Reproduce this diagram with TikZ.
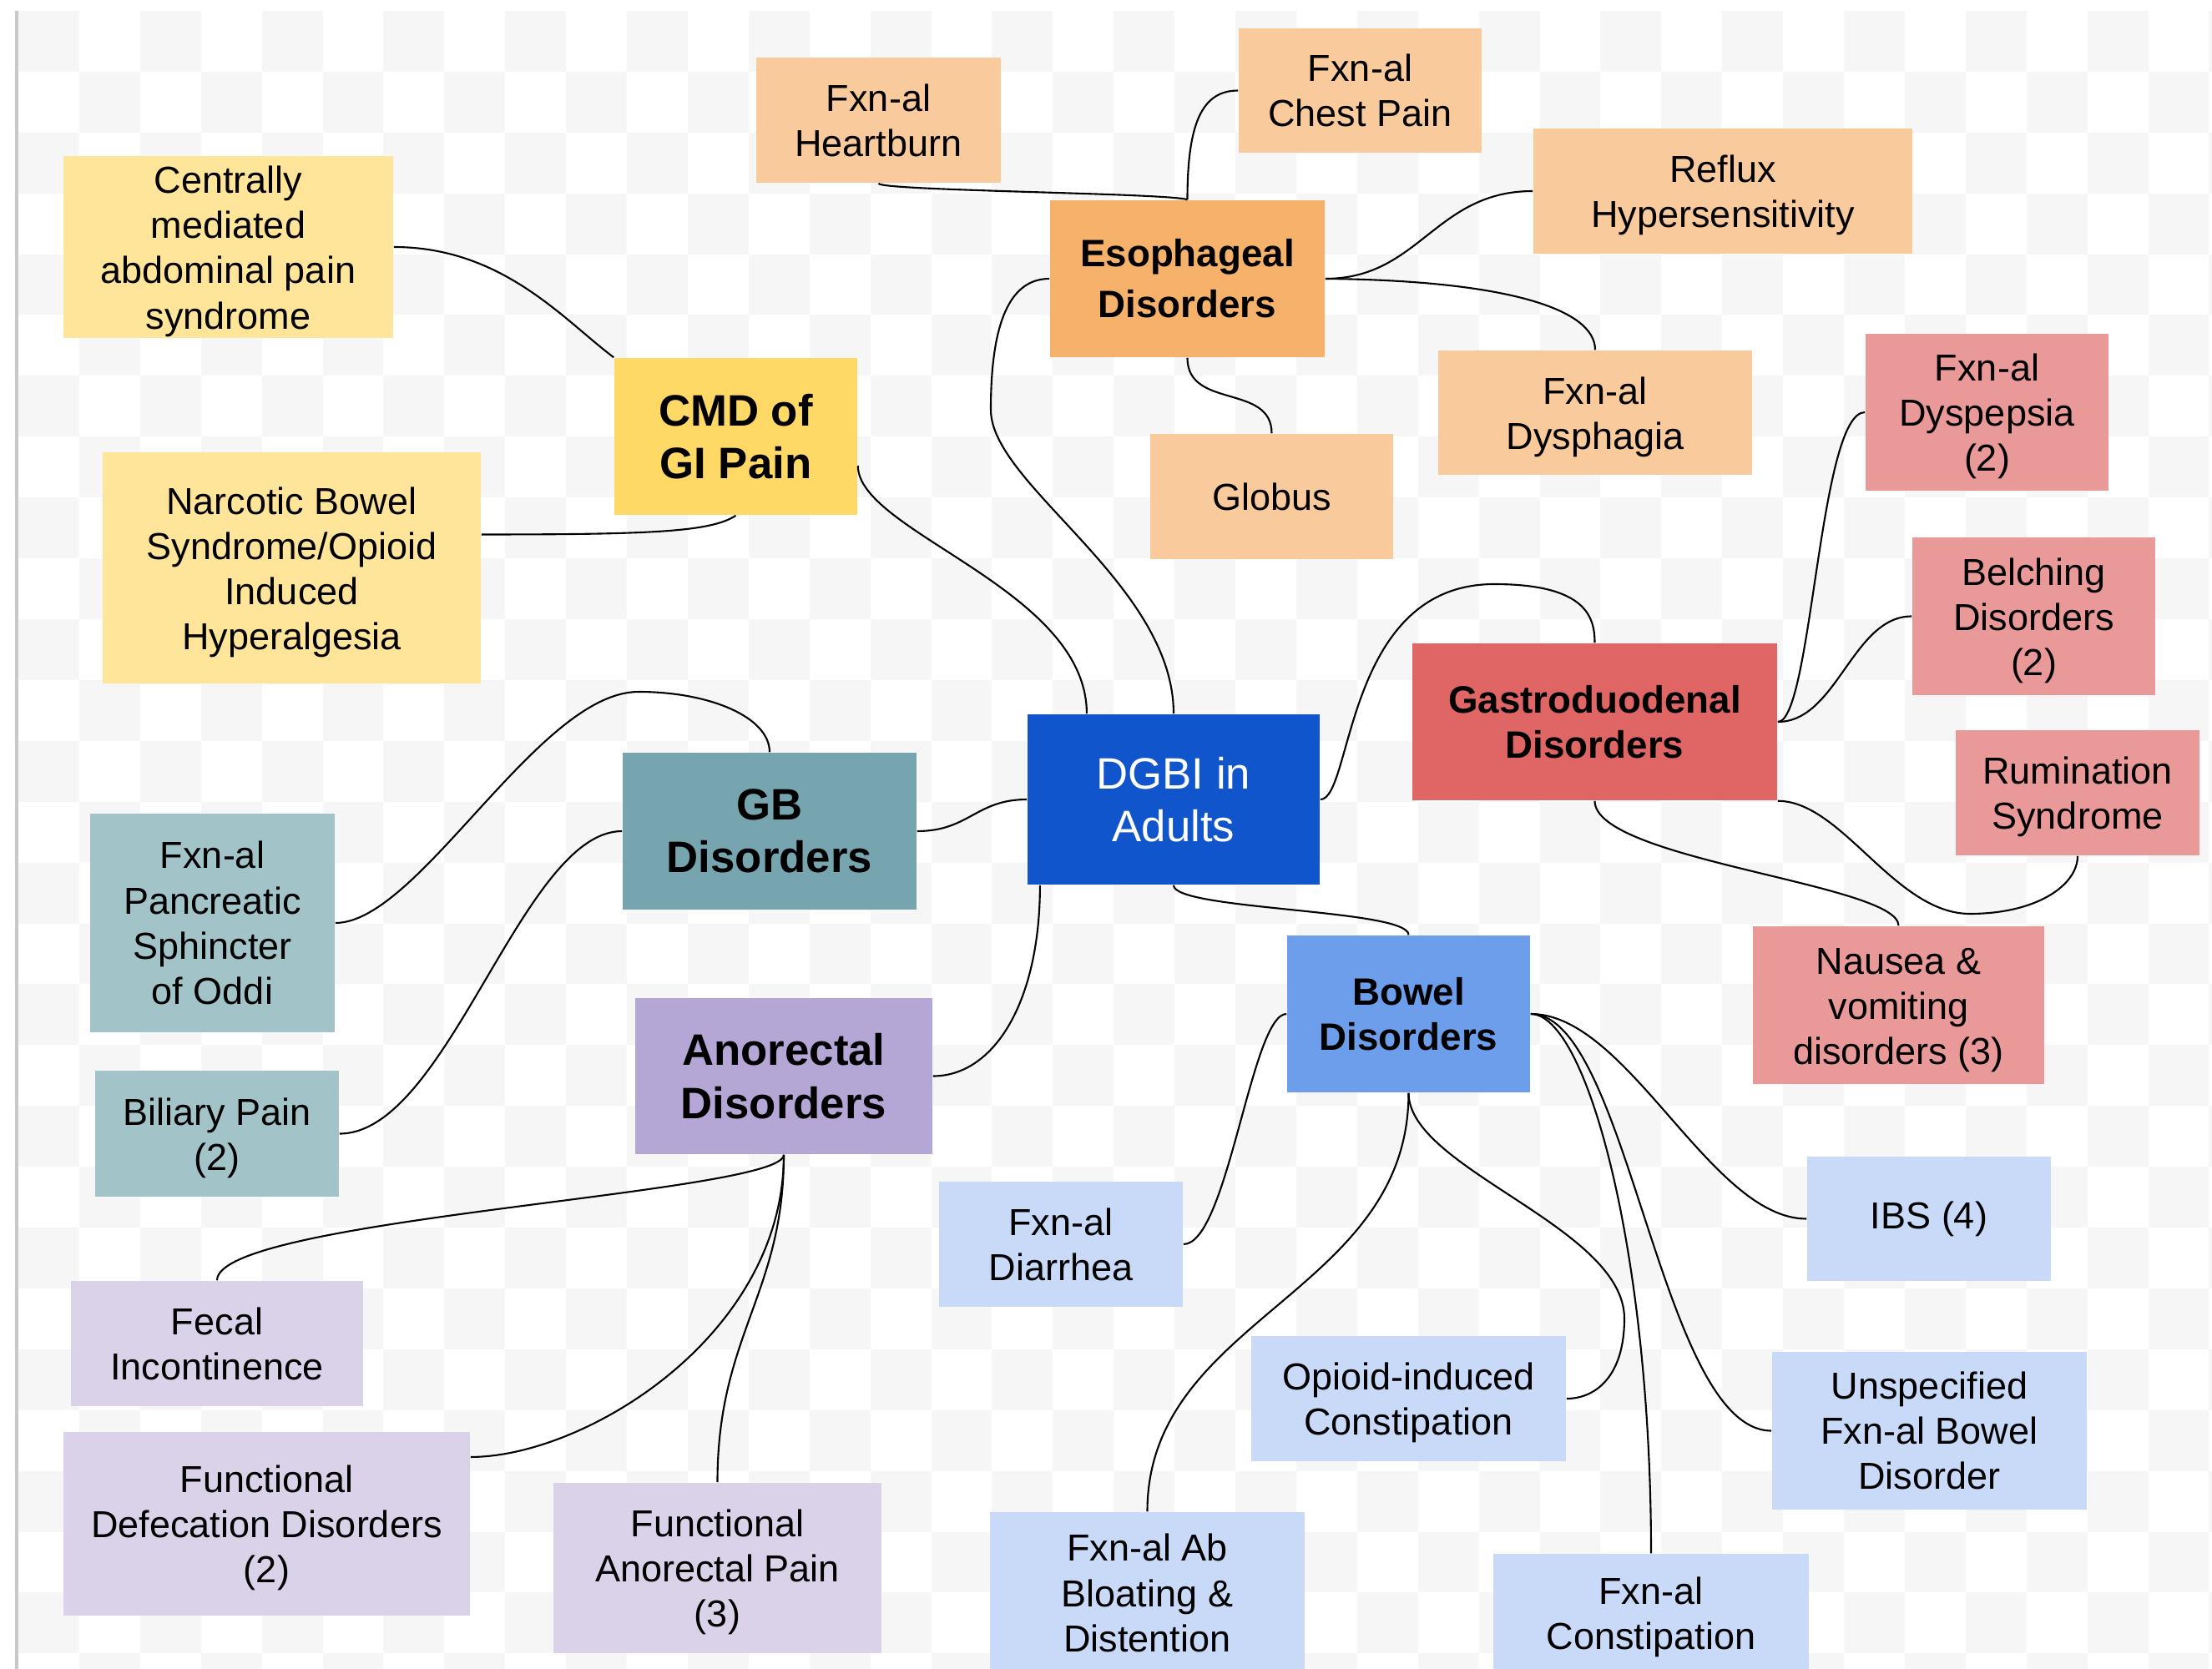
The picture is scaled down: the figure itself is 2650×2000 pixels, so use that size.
\documentclass[tikz,border=0pt]{standalone}
\usepackage{fontspec}
\setmainfont{Liberation Sans}
\usepackage{tikz}
\usetikzlibrary{positioning}

\definecolor{esomain}{HTML}{F6B26B}
\definecolor{esoleaf}{HTML}{F9CB9C}
\definecolor{cmdmain}{HTML}{FFD966}
\definecolor{cmdleaf}{HTML}{FFE599}
\definecolor{gastromain}{HTML}{E06666}
\definecolor{gastroleaf}{HTML}{EA9999}
\definecolor{bowelmain}{HTML}{6D9EEB}
\definecolor{bowelleaf}{HTML}{C9DAF8}
\definecolor{dgbiblue}{HTML}{1155CC}
\definecolor{gbmain}{HTML}{76A5AF}
\definecolor{gbleaf}{HTML}{A2C4C9}
\definecolor{anomain}{HTML}{B4A7D6}
\definecolor{anoleaf}{HTML}{D9D2E9}
\definecolor{checkgrey}{HTML}{F6F6F6}
\definecolor{edgegrey}{HTML}{C8C8C8}

% taller first line, evens out a descender on the last line
\newcommand{\leafstrut}{\rule{0pt}{12.2pt}}

\tikzset{
    leafbox/.style={rectangle, inner sep=0pt, align=center, minimum width=2.92cm, minimum height=1.50cm, font=\fontsize{12.8}{15.4}\selectfont},
    subbox/.style={rectangle, inner sep=0pt, align=center, minimum width=2.91cm, minimum height=1.88cm, font=\fontsize{13}{15.4}\selectfont\bfseries},
    mainbox/.style={rectangle, inner sep=0pt, align=center, minimum width=3.52cm, minimum height=1.88cm, font=\fontsize{15}{18}\selectfont\bfseries},
    link/.style={line width=0.6pt, black}
}

\begin{document}
\begin{tikzpicture}[x=0.01cm, y=-0.01cm]
    \useasboundingbox (0,0) rectangle (2650,2000);

    % Background: checker pattern and left rule
    \foreach \i in {0,...,36}
    {
        \foreach \j in {0,...,27}
        {
            \pgfmathtruncatemacro\cellodd{mod(\i+\j,2)}
            \ifnum\cellodd=0
                \fill[checkgrey] (22+72.9*\i,13+72.9*\j) rectangle ++(72.9,72.9);
            \fi
        }
    }
    \draw[edgegrey, line width=0.04cm] (20,13) -- (20,2000);

    % Centre
    \node[mainbox, fill=dgbiblue, text=white, font=\fontsize{15}{18}\selectfont, minimum width=3.50cm, minimum height=2.04cm] (dgbi) at (1406,958) {DGBI in\\Adults};

    % Esophageal group
    \node[subbox, fill=esomain, minimum width=3.29cm, font=\fontsize{13}{17.3}\selectfont\bfseries] (esoph) at (1422.5,334) {Esophageal\\Disorders};
    \node[leafbox, fill=esoleaf, minimum width=2.93cm] (heartburn) at (1052.5,144) {Fxn-al\\Heartburn};
    \node[leafbox, fill=esoleaf, minimum width=2.91cm, minimum height=1.49cm] (chest) at (1629.5,108.5) {Fxn-al\\Chest Pain};
    \node[leafbox, fill=esoleaf, minimum width=4.54cm] (reflux) at (2064,229) {\leafstrut Reflux\\Hypersensitivity};
    \node[leafbox, fill=esoleaf, minimum width=3.76cm, minimum height=1.49cm] (dysphagia) at (1911,494.5) {\leafstrut Fxn-al\\Dysphagia};
    \node[leafbox, fill=esoleaf, minimum width=2.91cm] (globus) at (1523.5,595) {Globus};

    % CMD group
    \node[mainbox, fill=cmdmain, minimum width=2.91cm] (cmd) at (881.5,523) {CMD of\\GI Pain};
    \node[leafbox, fill=cmdleaf, minimum width=3.95cm, minimum height=2.18cm] (centrally) at (273.5,296) {\leafstrut Centrally\\mediated\\abdominal pain\\syndrome};
    \node[leafbox, fill=cmdleaf, minimum width=4.53cm, minimum height=2.77cm] (narcotic) at (349.5,680.5) {\leafstrut Narcotic Bowel\\Syndrome/Opioid\\Induced\\Hyperalgesia};

    % Gastroduodenal group
    \node[subbox, fill=gastromain, minimum width=4.37cm] (gastro) at (1910.5,865) {Gastroduodenal\\Disorders};
    \node[leafbox, fill=gastroleaf, minimum width=2.91cm, minimum height=1.88cm] (dyspepsia) at (2380.5,494) {\leafstrut Fxn-al\\Dyspepsia\\(2)};
    \node[leafbox, fill=gastroleaf, minimum width=2.91cm, minimum height=1.89cm] (belching) at (2436.5,738.5) {\leafstrut Belching\\Disorders\\(2)};
    \node[leafbox, fill=gastroleaf] (rumination) at (2489,950) {\leafstrut Rumination\\Syndrome};
    \node[leafbox, fill=gastroleaf, minimum width=3.49cm, minimum height=1.89cm] (nausea) at (2274.5,1204.5) {\leafstrut Nausea \&\\vomiting\\disorders (3)};

    % GB group
    \node[mainbox, fill=gbmain] (gb) at (922,996) {GB\\Disorders};
    \node[leafbox, fill=gbleaf, minimum width=2.93cm, minimum height=2.62cm] (pancreatic) at (254.5,1106) {Fxn-al\\Pancreatic\\Sphincter\\of Oddi};
    \node[leafbox, fill=gbleaf, minimum height=1.51cm] (biliary) at (260,1358.5) {\leafstrut Biliary Pain\\(2)};

    % Anorectal group
    \node[mainbox, fill=anomain, minimum width=3.56cm, minimum height=1.87cm] (anorectal) at (939,1289.5) {Anorectal\\Disorders};
    \node[leafbox, fill=anoleaf, minimum width=3.50cm] (fecal) at (260,1610) {Fecal\\Incontinence};
    \node[leafbox, fill=anoleaf, minimum width=4.87cm, minimum height=2.20cm] (defecation) at (319.5,1826) {\leafstrut Functional\\Defecation Disorders\\(2)};
    \node[leafbox, fill=anoleaf, minimum width=3.93cm, minimum height=2.04cm] (anopain) at (859.5,1879) {\leafstrut Functional\\Anorectal Pain\\(3)};

    % Bowel group
    \node[subbox, fill=bowelmain] (bowel) at (1687.5,1215) {Bowel\\Disorders};
    \node[leafbox, fill=bowelleaf] (diarrhea) at (1271,1491) {Fxn-al\\Diarrhea};
    \node[leafbox, fill=bowelleaf, minimum width=3.77cm] (opioid) at (1687.5,1676) {\leafstrut Opioid-induced\\Constipation};
    \node[leafbox, fill=bowelleaf, minimum width=3.77cm, minimum height=1.94cm] (bloating) at (1374.5,1909) {Fxn-al Ab\\Bloating \&\\Distention};
    \node[leafbox, fill=bowelleaf, minimum width=3.78cm, minimum height=1.51cm] (constip) at (1978,1937.5) {Fxn-al\\Constipation};
    \node[leafbox, fill=bowelleaf, minimum height=1.49cm] (ibs) at (2311,1460.5) {IBS (4)};
    \node[leafbox, fill=bowelleaf, minimum width=3.77cm, minimum height=1.89cm] (unspec) at (2311.5,1714.5) {Unspecified\\Fxn-al Bowel\\Disorder};

    % Links from the centre
    \draw[link] ([yshift=-0.35cm]cmd.east) .. controls +(0,80) and +(0,-150) .. ([xshift=-1.04cm]dgbi.north);
    \draw[link] (esoph.west) .. controls +(-53,0) and +(0,-91) .. (1187,491) .. controls +(0,90) and +(0,-156) .. (dgbi.north);
    \draw[link] (dgbi.east) .. controls +(39,0) and +(-180,0) .. (1790,700) .. controls +(110,0) and +(0,-31) .. (gastro.north);
    \draw[link] (dgbi.south) .. controls +(0,30) and +(0,-31) .. (bowel.north);
    \draw[link] (gb.east) .. controls +(62,0) and +(-61,0) .. (dgbi.west);
    \draw[link] ([xshift=-1.6cm]dgbi.south) .. controls +(0,140) and +(73,0) .. (anorectal.east);

    % Esophageal links
    \draw[link] (heartburn.south) .. controls +(0,9) and +(-22,-8) .. (esoph.north);
    \draw[link] (esoph.north) .. controls +(0,-90) and +(-44,0) .. (chest.west);
    \draw[link] (esoph.east) .. controls +(113,0) and +(-117,0) .. (reflux.west);
    \draw[link] (esoph.east) .. controls +(213,2) and +(0,-50) .. (dysphagia.north);
    \draw[link] (esoph.south) .. controls +(0,62) and +(0,-60) .. (globus.north);

    % CMD links
    \draw[link] (centrally.east) .. controls +(130,0) and +(-60,-45) .. (cmd.north west);
    \draw[link] ([yshift=0.4cm]narcotic.east) .. controls +(200,0) and +(-30,20) .. (cmd.south);

    % Gastroduodenal links
    \draw[link] (gastro.east) .. controls +(41,0) and +(-55,0) .. (dyspepsia.west);
    \draw[link] (gastro.east) .. controls +(71,0) and +(-71,0) .. (belching.west);
    \draw[link] (gastro.south east) .. controls +(77,0) and +(-90,0) .. (2360,1095) .. controls +(80,0) and +(0,35) .. (rumination.south);
    \draw[link] (gastro.south) .. controls +(0,71) and +(0,-50) .. (nausea.north);

    % GB links
    \draw[link] (gb.north) .. controls +(0,-42) and +(85,0) .. (765,829) .. controls +(-120,0) and +(100,0) .. (pancreatic.east);
    \draw[link] (gb.west) .. controls +(-120,0) and +(130,0) .. (biliary.east);

    % Anorectal links
    \draw[link] (anorectal.south) .. controls +(0,47) and +(0,-75) .. (fecal.north);
    \draw[link] (anorectal.south) .. controls +(0,217) and +(137,0) .. ([yshift=0.8cm]defecation.east);
    \draw[link] (anorectal.south) .. controls +(0,167) and +(0,-177) .. (anopain.north);

    % Bowel links
    \draw[link] (bowel.west) .. controls +(-42,0) and +(53,0) .. (diarrhea.east);
    \draw[link] (bowel.south) .. controls +(0,241) and +(0,-232) .. (bloating.north);
    \draw[link] (bowel.south) .. controls +(0,91) and +(0,-110) .. (1946,1580) .. controls +(0,70) and +(34,0) .. (opioid.east);
    \draw[link] (bowel.east) .. controls +(117,0) and +(-115,0) .. (ibs.west);
    \draw[link] (bowel.east) .. controls +(117,0) and +(-133,0) .. (unspec.west);
    \draw[link] (bowel.east) .. controls +(67,0) and +(0,-362) .. (constip.north);
\end{tikzpicture}
\end{document}
